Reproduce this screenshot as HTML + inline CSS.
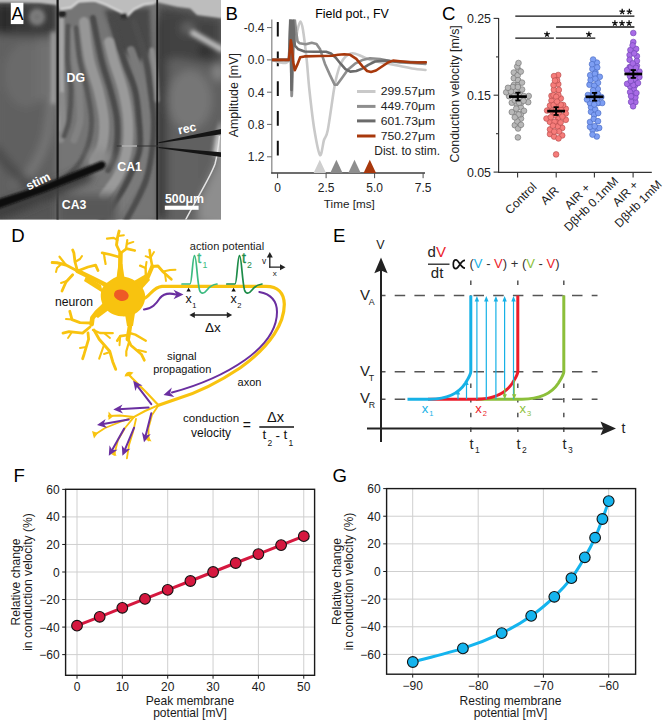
<!DOCTYPE html>
<html><head><meta charset="utf-8"><title>Figure</title>
<style>html,body{margin:0;padding:0;background:#fff;overflow:hidden;}svg{display:block;font-family:"Liberation Sans",sans-serif;}</style>
</head><body>
<svg width="664" height="720" viewBox="0 0 664 720">
<rect x="0" y="0" width="664" height="720" fill="#fff"/>
<clipPath id="ca"><rect x="0" y="0" width="221" height="219.5"/></clipPath>
<filter id="bl2" filterUnits="userSpaceOnUse" x="-20" y="-20" width="260" height="260"><feGaussianBlur stdDeviation="2.2"/></filter>
<filter id="bl1" filterUnits="userSpaceOnUse" x="-20" y="-20" width="260" height="260"><feGaussianBlur stdDeviation="1"/></filter>
<filter id="bl4" filterUnits="userSpaceOnUse" x="-20" y="-20" width="260" height="260"><feGaussianBlur stdDeviation="4"/></filter>
<g clip-path="url(#ca)">
<rect x="0" y="0" width="221" height="219.5" fill="#6a6a6a"/>
<g filter="url(#bl4)">
<rect x="-5" y="30" width="62" height="195" fill="#616161"/>
<ellipse cx="26" cy="75" rx="22" ry="32" fill="#6a6a6a"/>
<path d="M-5 3 L57 3 L57 33 C40 37 20 36 -5 34 Z" fill="#383838"/>
<rect x="-5" y="3" width="16" height="30" fill="#2a2a2a"/>
<ellipse cx="37" cy="17" rx="6" ry="6" fill="#858585"/>
<rect x="36" y="40" width="18" height="60" fill="#707070"/>
<path d="M52.0 100.0 C51.0 106.7 49.7 128.0 46.0 140.0 C42.3 152.0 35.2 165.0 30.0 172.0 C24.8 179.0 17.5 180.3 15.0 182.0" fill="none" stroke="#7a7a7a" stroke-width="7" stroke-linecap="round" stroke-opacity="1"/>
<path d="M-5.0 150.0 C-0.8 154.7 12.5 171.3 20.0 178.0 C27.5 184.7 33.8 187.0 40.0 190.0 C46.2 193.0 54.2 195.0 57.0 196.0" fill="none" stroke="#4a4a4a" stroke-width="10" stroke-linecap="round" stroke-opacity="1"/>
<rect x="-5" y="200" width="62" height="25" fill="#555"/>
<rect x="157" y="10" width="70" height="220" fill="#606060"/>
<path d="M157 6 L190 11 L200 17 L221 19 L221 66 L200 62 L180 58 L157 60 Z" fill="#434343"/>
<rect x="154" y="20" width="13" height="200" fill="#3e3e3e"/>
<ellipse cx="190" cy="100" rx="22" ry="30" fill="#767676"/>
<ellipse cx="188" cy="28" rx="7" ry="6" fill="#666"/>
<ellipse cx="205" cy="51" rx="6" ry="5.5" fill="#262626"/>
<ellipse cx="218" cy="72" rx="5" ry="9" fill="#8a8a8a"/>
<path d="M220 138 L216 165 L190 220 L230 230 L230 138 Z" fill="#8e8e8e"/>
<rect x="168" y="150" width="30" height="70" fill="#626262"/>
</g>
<g filter="url(#bl2)">
<path d="M193.0 33.0 C197.7 35.7 216.3 46.3 221.0 49.0" fill="none" stroke="#c4c4c4" stroke-width="6" stroke-linecap="round" stroke-opacity="1"/>
<rect x="51" y="32" width="5.5" height="72" fill="#a2a2a2"/>
<path d="M221 120 L216 136 L213 155 L221 156 Z" fill="#d0d0d0"/>
<ellipse cx="37" cy="17" rx="5" ry="5.5" fill="none" stroke="#8e8e8e" stroke-width="3"/>
</g>
<g filter="url(#bl2)">
<rect x="57" y="0" width="100" height="220" fill="#747474"/>
<path d="M104 10 L150 8 L152 50 L140 62 L118 50 Z" fill="#4a4a4a"/>
</g>
<g filter="url(#bl1)">
<path d="M61.5 14.0 C61.5 18.3 61.5 30.7 61.5 40.0 C61.5 49.3 61.4 60.0 61.5 70.0 C61.6 80.0 62.1 90.0 62.0 100.0 C61.9 110.0 61.2 125.0 61.0 130.0" fill="none" stroke="#a4a4a4" stroke-width="5" stroke-linecap="round" stroke-opacity="1"/>
<path d="M62.0 95.0 C62.2 100.0 63.2 117.5 63.0 125.0 C62.8 132.5 61.3 137.5 61.0 140.0" fill="none" stroke="#8a8a8a" stroke-width="6" stroke-linecap="round" stroke-opacity="1"/>
<path d="M68.0 26.0 C67.9 31.7 67.0 49.3 67.5 60.0 C68.0 70.7 70.8 80.0 71.0 90.0 C71.2 100.0 70.2 112.3 69.0 120.0 C67.8 127.7 64.8 133.3 64.0 136.0" fill="none" stroke="#555" stroke-width="5" stroke-linecap="round" stroke-opacity="1"/>
<path d="M74.0 30.0 C74.2 35.0 74.2 50.0 75.0 60.0 C75.8 70.0 78.2 80.0 79.0 90.0 C79.8 100.0 80.8 111.7 80.0 120.0 C79.2 128.3 75.0 136.7 74.0 140.0" fill="none" stroke="#828282" stroke-width="7" stroke-linecap="round" stroke-opacity="1"/>
<path d="M76.0 28.0 C76.6 33.3 77.8 49.7 79.6 60.0 C81.4 70.3 85.0 80.0 87.0 90.0 C89.0 100.0 91.4 110.8 91.6 120.0 C91.8 129.2 90.3 137.5 88.0 145.0 C85.7 152.5 82.3 159.2 78.0 165.0 C73.7 170.8 64.7 177.5 62.0 180.0" fill="none" stroke="#575757" stroke-width="5" stroke-linecap="round" stroke-opacity="1"/>
<path d="M84.0 22.0 C84.9 28.3 87.0 48.7 89.4 60.0 C91.8 71.3 96.0 80.0 98.4 90.0 C100.8 100.0 103.4 110.7 104.0 120.0 C104.6 129.3 103.7 139.0 102.0 146.0 C100.3 153.0 95.3 159.3 94.0 162.0" fill="none" stroke="#979797" stroke-width="10" stroke-linecap="round" stroke-opacity="1"/>
<path d="M93.0 18.0 C94.4 25.0 98.6 48.0 101.5 60.0 C104.4 72.0 107.9 80.0 110.5 90.0 C113.1 100.0 116.1 110.0 117.0 120.0 C117.9 130.0 117.5 141.7 116.0 150.0 C114.5 158.3 109.3 166.7 108.0 170.0" fill="none" stroke="#4c4c4c" stroke-width="6" stroke-linecap="round" stroke-opacity="1"/>
<path d="M109.0 42.0 C109.8 45.0 111.2 52.0 113.5 60.0 C115.8 68.0 120.6 80.0 123.0 90.0 C125.4 100.0 127.3 110.0 128.0 120.0 C128.7 130.0 128.7 140.7 127.0 150.0 C125.3 159.3 121.8 168.3 118.0 176.0 C114.2 183.7 106.3 192.7 104.0 196.0" fill="none" stroke="#9a9a9a" stroke-width="10" stroke-linecap="round" stroke-opacity="1"/>
<path d="M112.0 20.0 C114.0 26.7 120.2 48.3 124.0 60.0 C127.8 71.7 132.5 80.0 135.0 90.0 C137.5 100.0 138.2 110.0 139.0 120.0 C139.8 130.0 141.4 140.0 139.6 150.0 C137.8 160.0 132.8 170.0 128.0 180.0 C123.2 190.0 116.0 202.7 111.0 210.0 C106.0 217.3 100.2 221.7 98.0 224.0" fill="none" stroke="#484848" stroke-width="6" stroke-linecap="round" stroke-opacity="1"/>
<path d="M131.0 50.0 C131.6 51.7 132.5 53.3 134.5 60.0 C136.5 66.7 141.0 80.0 143.0 90.0 C145.0 100.0 145.9 110.0 146.6 120.0 C147.3 130.0 148.4 140.3 147.0 150.0 C145.6 159.7 142.2 169.0 138.0 178.0 C133.8 187.0 127.0 196.3 122.0 204.0 C117.0 211.7 110.3 220.7 108.0 224.0" fill="none" stroke="#7a7a7a" stroke-width="8" stroke-linecap="round" stroke-opacity="1"/>
<path d="M134.0 22.0 C136.0 28.3 143.1 48.7 145.8 60.0 C148.5 71.3 149.1 80.0 150.4 90.0 C151.7 100.0 153.4 110.0 153.7 120.0 C154.0 130.0 153.3 140.0 152.0 150.0 C150.7 160.0 149.0 170.7 146.0 180.0 C143.0 189.3 137.7 198.7 134.0 206.0 C130.3 213.3 125.7 221.0 124.0 224.0" fill="none" stroke="#4e4e4e" stroke-width="6" stroke-linecap="round" stroke-opacity="1"/>
<path d="M152.0 50.0 C152.6 54.2 154.7 66.7 155.5 75.0 C156.3 83.3 156.8 95.8 157.0 100.0" fill="none" stroke="#8c8c8c" stroke-width="5" stroke-linecap="round" stroke-opacity="1"/>
</g>
<g filter="url(#bl1)">
<path d="M-2 -2 L223 -2 L223 18.4 L210.3 16.7 L197 15 L190.3 8.4 L176.9 6.7 L158.5 2.5 L154.7 3.2 L143.6 4.7 L134 9.5 L127.8 15.8 L118.3 11 L105.6 4.7 L94.5 0.8 L78.7 1.6 L70.8 7.9 L59.7 9.5 L57 5 L40 3 L20 2.5 L-2 2.5 Z" fill="#bdbdbd"/>
<path d="M59.7 9.5 L70.8 7.9 L78.7 1.6 L94.5 0.8 L105.6 4.7 L118.3 11 L127.8 15.8 L134 9.5 L143.6 4.7 L154.7 3.2" fill="none" stroke="#e6e6e6" stroke-width="1.6"/>
<ellipse cx="62" cy="14" rx="4" ry="3.5" fill="#202020"/>
<ellipse cx="124" cy="16" rx="3.5" ry="3" fill="#303030"/>
</g>
<line x1="57.6" y1="0" x2="57.6" y2="220" stroke="#141414" stroke-width="2.2"/>
<line x1="157.2" y1="0" x2="157.2" y2="220" stroke="#141414" stroke-width="1.8"/>
<path d="M219.5 136 C218.5 145 217.5 155 215 164 C210 178 198 196 185 221" fill="none" stroke="#e4e4e4" stroke-width="1.5"/>
<g filter="url(#bl4)">
<ellipse cx="100" cy="158" rx="12" ry="9" fill="#8c8c8c"/>
<path d="M-5.0 214.0 C0.8 211.7 15.0 206.3 30.0 200.0 C45.0 193.7 75.8 180.0 85.0 176.0" fill="none" stroke="#3c3c3c" stroke-width="14" stroke-linecap="round" stroke-opacity="1"/>
<rect x="57" y="195" width="60" height="30" fill="#585858"/>
</g>
<g filter="url(#bl1)">
<path d="M-5 200 L40 186 L100 161.5 C106 159.5 108 167 102 169.5 L45 192 L-5 210 Z" fill="#111"/>
</g>
<path d="M222 128.8 L222 134 L158.5 143.3 L158.5 142.2 Z" fill="#151515"/>
<path d="M222 152.3 L222 157.2 L158.5 148.1 L158.5 147.1 Z" fill="#151515"/>
<line x1="116.7" y1="146" x2="158.5" y2="146" stroke="#333" stroke-width="1"/>
<line x1="121.7" y1="146" x2="137" y2="146" stroke="#f0f0f0" stroke-width="1.1"/>
<rect x="10.8" y="2.7" width="12.6" height="21.4" fill="#fff"/>
<text x="11.5" y="19.9" font-size="18" fill="#000" font-family="Liberation Sans, sans-serif">A</text>
<text x="66.6" y="81.9" font-size="12.3" fill="#fff" font-weight="bold" font-family="Liberation Sans, sans-serif">DG</text>
<text x="117.3" y="171" font-size="12.3" fill="#fff" font-weight="bold" font-family="Liberation Sans, sans-serif">CA1</text>
<text x="61.8" y="208.7" font-size="12.3" fill="#fff" font-weight="bold" font-family="Liberation Sans, sans-serif">CA3</text>
<text transform="translate(28.5 190.5) rotate(-26)" font-size="12.3" fill="#fff" font-weight="bold" font-family="Liberation Sans, sans-serif">stim</text>
<text transform="translate(179 134.5) rotate(-13)" font-size="12.3" fill="#fff" font-weight="bold" font-family="Liberation Sans, sans-serif">rec</text>
<text x="165" y="202.8" font-size="12.3" fill="#fff" font-weight="bold" font-family="Liberation Sans, sans-serif">500μm</text>
<rect x="164.8" y="205.7" width="33.8" height="4.1" fill="#fff"/>
</g>
<text x="225.6" y="19.7" font-size="18.6" font-family="Liberation Sans, sans-serif">B</text>
<text x="315.2" y="17.6" font-size="12.4" font-family="Liberation Sans, sans-serif">Field pot., FV</text>
<line x1="271.8" y1="19.5" x2="271.8" y2="173.6" stroke="#8c8c8c" stroke-width="1.3"/>
<line x1="271.2" y1="173" x2="425" y2="173" stroke="#3c3c3c" stroke-width="1.3"/>
<line x1="267" y1="27.6" x2="271.8" y2="27.6" stroke="#666" stroke-width="1"/>
<text x="264.5" y="32.0" font-size="12" text-anchor="end" fill="#222" font-family="Liberation Sans, sans-serif">-0.4</text>
<line x1="267" y1="59.9" x2="271.8" y2="59.9" stroke="#666" stroke-width="1"/>
<text x="264.5" y="64.3" font-size="12" text-anchor="end" fill="#222" font-family="Liberation Sans, sans-serif">0.0</text>
<line x1="267" y1="92.2" x2="271.8" y2="92.2" stroke="#666" stroke-width="1"/>
<text x="264.5" y="96.6" font-size="12" text-anchor="end" fill="#222" font-family="Liberation Sans, sans-serif">0.4</text>
<line x1="267" y1="124.4" x2="271.8" y2="124.4" stroke="#666" stroke-width="1"/>
<text x="264.5" y="128.8" font-size="12" text-anchor="end" fill="#222" font-family="Liberation Sans, sans-serif">0.8</text>
<line x1="267" y1="156.8" x2="271.8" y2="156.8" stroke="#666" stroke-width="1"/>
<text x="264.5" y="161.2" font-size="12" text-anchor="end" fill="#222" font-family="Liberation Sans, sans-serif">1.2</text>
<line x1="277.6" y1="173" x2="277.6" y2="178.2" stroke="#505050" stroke-width="1"/>
<text x="277.6" y="192.4" font-size="12" text-anchor="middle" fill="#222" font-family="Liberation Sans, sans-serif">0</text>
<line x1="326.1" y1="173" x2="326.1" y2="178.2" stroke="#505050" stroke-width="1"/>
<text x="326.1" y="192.4" font-size="12" text-anchor="middle" fill="#222" font-family="Liberation Sans, sans-serif">2.5</text>
<line x1="374.6" y1="173" x2="374.6" y2="178.2" stroke="#505050" stroke-width="1"/>
<text x="374.6" y="192.4" font-size="12" text-anchor="middle" fill="#222" font-family="Liberation Sans, sans-serif">5.0</text>
<line x1="423.1" y1="173" x2="423.1" y2="178.2" stroke="#505050" stroke-width="1"/>
<text x="423.1" y="192.4" font-size="12" text-anchor="middle" fill="#222" font-family="Liberation Sans, sans-serif">7.5</text>
<text x="349.3" y="207.5" font-size="11.7" text-anchor="middle" fill="#222" font-family="Liberation Sans, sans-serif">Time [ms]</text>
<text transform="translate(238.3 95.2) rotate(-90)" font-size="12.45" text-anchor="middle" fill="#222" font-family="Liberation Sans, sans-serif">Amplitude [mV]</text>
<line x1="277.8" y1="21.9" x2="277.8" y2="156" stroke="#111" stroke-width="2" stroke-dasharray="14.7 15"/>
<clipPath id="cb"><rect x="272" y="19.5" width="160" height="153"/></clipPath>
<g clip-path="url(#cb)" fill="none" stroke-width="2.6" stroke-linejoin="round" stroke-linecap="round">
<path d="M272 59.9 C274.8 59.9 285.9 66.9 289 59.9 C292.1 52.9 290 12 290.5 18 C291 24 291.5 96 292 96 C292.5 96 292.9 27.3 293.5 18 C294.1 8.7 294.8 38 295.5 40 C296.2 42 296.7 33.1 297.5 30 C298.3 26.9 299.5 21.5 300.4 21.5 C301.3 21.5 302 23.9 303 30 C304 36.1 305.4 48 306.5 58 C307.6 68 308.1 78 309.4 90 C310.7 102 312.6 119.2 314.4 130 C316.2 140.8 318.4 153.3 320 155 C321.6 156.7 322.7 144.2 324 140 C325.3 135.8 326.2 138.3 327.8 130 C329.4 121.7 332.4 99.2 333.9 90 C335.4 80.8 335.9 79.3 337 75 C338.1 70.7 339.2 67 340.6 64 C342 61 343.4 58.5 345.4 56.7 C347.4 54.9 349.9 53.2 352.7 53.2 C355.5 53.2 359.1 55.3 362.3 56.5 C365.5 57.7 368.2 59.4 372 60.5 C375.8 61.6 380.3 62.1 385 63 C389.7 63.9 395.5 65.1 400 66 C404.5 66.9 407.8 67.8 412 68.5 C416.2 69.2 423.2 69.8 425.5 70" stroke="#c9c9c9"/>
<path d="M272 59.9 L289 59.9 L290.3 18 L291.6 96 L294.6 18 L296.2 32 L297.6 41.5 L299.6 43.3 L305.7 44.3 L311.7 42.8 L316.5 44 L320.1 49.3 L324.9 63.7 L329.8 74.6 L334.6 84.6 L337 84.8 L341.8 78.2 L347.8 69.8 L355 63.7 L362.3 60.1 L370 58.3 L380 59 L390 61 L400 62.5 L412 63 L425.5 64" stroke="#8e8e8e"/>
<path d="M272 59.9 L289 59.9 L290.5 18 L291.5 90 L293 18 L294.8 45.7 L298.4 49.3 L304.5 51.5 L314.1 51.7 L326.1 51.8 L331 53.5 L335.8 57.7 L340.6 63.7 L345.4 69.2 L350.2 71.6 L356.3 71 L362.3 68.6 L368.3 64.9 L375 61.5 L385 60.5 L395 61.5 L410 62 L425.5 62.5" stroke="#6b6b6b"/>
<path d="M272 59.9 L288.8 59.9 L290 50 L290.8 40.3 L291.8 46 L293.2 62 L294.8 70.2 L297.2 64.9 L300.2 57.3 L304.5 56.4 L320.1 56 L332.2 55.8 L338.2 54.8 L344.2 54.2 L350.2 54.8 L356.3 58.9 L362.3 66.1 L367.1 71 L371 72 L376 70.5 L382 66.5 L388 62.5 L393 60.6 L400 61.2 L410 62.3 L418 62.5 L425.8 62.3" stroke="#a8380c"/>
</g>
<path d="M313.6 173 L319.8 159.8 L326.0 173 Z" fill="#cfcfcf"/>
<path d="M330.2 173 L336.4 159.8 L342.59999999999997 173 Z" fill="#8a8a8a"/>
<path d="M348.3 173 L354.5 159.8 L360.7 173 Z" fill="#8e8e8e"/>
<path d="M363.6 173 L369.8 159.8 L376.0 173 Z" fill="#a8380c"/>
<line x1="357" y1="91.5" x2="375.5" y2="91.5" stroke="#c9c9c9" stroke-width="3"/>
<text x="380.8" y="95.4" font-size="11.7" textLength="54.2" lengthAdjust="spacingAndGlyphs" fill="#222" font-family="Liberation Sans, sans-serif">299.57μm</text>
<line x1="357" y1="106.4" x2="375.5" y2="106.4" stroke="#8e8e8e" stroke-width="3"/>
<text x="380.8" y="110.3" font-size="11.7" textLength="54.2" lengthAdjust="spacingAndGlyphs" fill="#222" font-family="Liberation Sans, sans-serif">449.70μm</text>
<line x1="357" y1="120.9" x2="375.5" y2="120.9" stroke="#6b6b6b" stroke-width="3"/>
<text x="380.8" y="124.8" font-size="11.7" textLength="54.2" lengthAdjust="spacingAndGlyphs" fill="#222" font-family="Liberation Sans, sans-serif">601.73μm</text>
<line x1="357" y1="136" x2="375.5" y2="136" stroke="#a8380c" stroke-width="3"/>
<text x="380.8" y="139.9" font-size="11.7" textLength="54.2" lengthAdjust="spacingAndGlyphs" fill="#222" font-family="Liberation Sans, sans-serif">750.27μm</text>
<text x="374.3" y="155.2" font-size="11.95" fill="#222" font-family="Liberation Sans, sans-serif">Dist. to stim.</text>
<text x="442.1" y="19.8" font-size="18.6" font-family="Liberation Sans, sans-serif">C</text>
<line x1="498.6" y1="18" x2="498.6" y2="173" stroke="#333" stroke-width="1.2"/>
<line x1="498" y1="172.4" x2="651.8" y2="172.4" stroke="#333" stroke-width="1.2"/>
<line x1="493.6" y1="18.4" x2="498.6" y2="18.4" stroke="#333" stroke-width="1.1"/>
<text x="491" y="22.8" font-size="12.4" text-anchor="end" fill="#222" font-family="Liberation Sans, sans-serif">0.25</text>
<line x1="493.6" y1="95.2" x2="498.6" y2="95.2" stroke="#333" stroke-width="1.1"/>
<text x="491" y="99.6" font-size="12.4" text-anchor="end" fill="#222" font-family="Liberation Sans, sans-serif">0.15</text>
<line x1="493.6" y1="172.1" x2="498.6" y2="172.1" stroke="#333" stroke-width="1.1"/>
<text x="491" y="176.5" font-size="12.4" text-anchor="end" fill="#222" font-family="Liberation Sans, sans-serif">0.05</text>
<line x1="496" y1="56.9" x2="498.6" y2="56.9" stroke="#333" stroke-width="1.1"/>
<line x1="496" y1="133.7" x2="498.6" y2="133.7" stroke="#333" stroke-width="1.1"/>
<text transform="translate(458.9 93.8) rotate(-90)" font-size="12.35" text-anchor="middle" fill="#222" font-family="Liberation Sans, sans-serif">Conduction velocity [m/s]</text>
<line x1="517.6" y1="172.4" x2="517.6" y2="177.4" stroke="#333" stroke-width="1.1"/>
<line x1="556.2" y1="172.4" x2="556.2" y2="177.4" stroke="#333" stroke-width="1.1"/>
<line x1="594.4" y1="172.4" x2="594.4" y2="177.4" stroke="#333" stroke-width="1.1"/>
<line x1="633.1" y1="172.4" x2="633.1" y2="177.4" stroke="#333" stroke-width="1.1"/>
<text transform="translate(510.1 214.9) rotate(-45)" font-size="12" fill="#222" font-family="Liberation Sans, sans-serif">Control</text>
<text transform="translate(545.6 205.6) rotate(-45)" font-size="12" fill="#222" font-family="Liberation Sans, sans-serif">AIR</text>
<text transform="translate(569.4 209.9) rotate(-45)" font-size="12" fill="#222" font-family="Liberation Sans, sans-serif">AIR +</text>
<text transform="translate(568.9 232.1) rotate(-45)" font-size="12" fill="#222" font-family="Liberation Sans, sans-serif">DβHb 0.1mM</text>
<text transform="translate(617.5 207.2) rotate(-45)" font-size="12" fill="#222" font-family="Liberation Sans, sans-serif">AIR +</text>
<text transform="translate(619.5 228.2) rotate(-45)" font-size="12" fill="#222" font-family="Liberation Sans, sans-serif">DβHb 1mM</text>
<line x1="515.3" y1="16.1" x2="634.4" y2="16.1" stroke="#111" stroke-width="1.4"/>
<line x1="556.1" y1="27" x2="634.4" y2="27" stroke="#111" stroke-width="1.4"/>
<line x1="515.3" y1="38.1" x2="553.9" y2="38.1" stroke="#111" stroke-width="1.4"/>
<line x1="555.9" y1="38.1" x2="595.3" y2="38.1" stroke="#111" stroke-width="1.4"/>
<path d="M622.20 11.70 L622.20 8.80 M622.20 11.70 L624.96 10.80 M622.20 11.70 L623.90 14.05 M622.20 11.70 L620.50 14.05 M622.20 11.70 L619.44 10.80 " stroke="#111" stroke-width="1.3" stroke-linecap="butt" fill="none"/>
<path d="M629.40 11.70 L629.40 8.80 M629.40 11.70 L632.16 10.80 M629.40 11.70 L631.10 14.05 M629.40 11.70 L627.70 14.05 M629.40 11.70 L626.64 10.80 " stroke="#111" stroke-width="1.3" stroke-linecap="butt" fill="none"/>
<path d="M614.90 23.20 L614.90 20.30 M614.90 23.20 L617.66 22.30 M614.90 23.20 L616.60 25.55 M614.90 23.20 L613.20 25.55 M614.90 23.20 L612.14 22.30 " stroke="#111" stroke-width="1.3" stroke-linecap="butt" fill="none"/>
<path d="M622.00 23.20 L622.00 20.30 M622.00 23.20 L624.76 22.30 M622.00 23.20 L623.70 25.55 M622.00 23.20 L620.30 25.55 M622.00 23.20 L619.24 22.30 " stroke="#111" stroke-width="1.3" stroke-linecap="butt" fill="none"/>
<path d="M629.10 23.20 L629.10 20.30 M629.10 23.20 L631.86 22.30 M629.10 23.20 L630.80 25.55 M629.10 23.20 L627.40 25.55 M629.10 23.20 L626.34 22.30 " stroke="#111" stroke-width="1.3" stroke-linecap="butt" fill="none"/>
<path d="M547.00 34.30 L547.00 31.40 M547.00 34.30 L549.76 33.40 M547.00 34.30 L548.70 36.65 M547.00 34.30 L545.30 36.65 M547.00 34.30 L544.24 33.40 " stroke="#111" stroke-width="1.3" stroke-linecap="butt" fill="none"/>
<path d="M588.90 34.30 L588.90 31.40 M588.90 34.30 L591.66 33.40 M588.90 34.30 L590.60 36.65 M588.90 34.30 L587.20 36.65 M588.90 34.30 L586.14 33.40 " stroke="#111" stroke-width="1.3" stroke-linecap="butt" fill="none"/>
<circle cx="518.5" cy="70.0" r="2.85" fill="#b8b8b8" stroke="#6e6e6e" stroke-width="0.6"/>
<circle cx="528.7" cy="96.0" r="2.85" fill="#b8b8b8" stroke="#6e6e6e" stroke-width="0.6"/>
<circle cx="516.3" cy="113.4" r="2.85" fill="#b8b8b8" stroke="#6e6e6e" stroke-width="0.6"/>
<circle cx="521.0" cy="118.6" r="2.85" fill="#b8b8b8" stroke="#6e6e6e" stroke-width="0.6"/>
<circle cx="520.9" cy="114.2" r="2.85" fill="#b8b8b8" stroke="#6e6e6e" stroke-width="0.6"/>
<circle cx="514.0" cy="84.8" r="2.85" fill="#b8b8b8" stroke="#6e6e6e" stroke-width="0.6"/>
<circle cx="513.8" cy="78.2" r="2.85" fill="#b8b8b8" stroke="#6e6e6e" stroke-width="0.6"/>
<circle cx="516.4" cy="103.8" r="2.85" fill="#b8b8b8" stroke="#6e6e6e" stroke-width="0.6"/>
<circle cx="513.9" cy="95.6" r="2.85" fill="#b8b8b8" stroke="#6e6e6e" stroke-width="0.6"/>
<circle cx="519.7" cy="93.5" r="2.85" fill="#b8b8b8" stroke="#6e6e6e" stroke-width="0.6"/>
<circle cx="513.8" cy="72.5" r="2.85" fill="#b8b8b8" stroke="#6e6e6e" stroke-width="0.6"/>
<circle cx="514.8" cy="125.2" r="2.85" fill="#b8b8b8" stroke="#6e6e6e" stroke-width="0.6"/>
<circle cx="517.3" cy="121.4" r="2.85" fill="#b8b8b8" stroke="#6e6e6e" stroke-width="0.6"/>
<circle cx="517.2" cy="66.5" r="2.85" fill="#b8b8b8" stroke="#6e6e6e" stroke-width="0.6"/>
<circle cx="518.6" cy="114.5" r="2.85" fill="#b8b8b8" stroke="#6e6e6e" stroke-width="0.6"/>
<circle cx="515.6" cy="91.1" r="2.85" fill="#b8b8b8" stroke="#6e6e6e" stroke-width="0.6"/>
<circle cx="517.7" cy="75.3" r="2.85" fill="#b8b8b8" stroke="#6e6e6e" stroke-width="0.6"/>
<circle cx="518.1" cy="80.1" r="2.85" fill="#b8b8b8" stroke="#6e6e6e" stroke-width="0.6"/>
<circle cx="519.5" cy="98.2" r="2.85" fill="#b8b8b8" stroke="#6e6e6e" stroke-width="0.6"/>
<circle cx="522.1" cy="89.5" r="2.85" fill="#b8b8b8" stroke="#6e6e6e" stroke-width="0.6"/>
<circle cx="518.0" cy="85.1" r="2.85" fill="#b8b8b8" stroke="#6e6e6e" stroke-width="0.6"/>
<circle cx="523.8" cy="96.0" r="2.85" fill="#b8b8b8" stroke="#6e6e6e" stroke-width="0.6"/>
<circle cx="509.1" cy="96.2" r="2.85" fill="#b8b8b8" stroke="#6e6e6e" stroke-width="0.6"/>
<circle cx="518.1" cy="128.5" r="2.85" fill="#b8b8b8" stroke="#6e6e6e" stroke-width="0.6"/>
<circle cx="506.2" cy="92.3" r="2.85" fill="#b8b8b8" stroke="#6e6e6e" stroke-width="0.6"/>
<circle cx="517.9" cy="137.4" r="2.85" fill="#b8b8b8" stroke="#6e6e6e" stroke-width="0.6"/>
<circle cx="511.8" cy="102.7" r="2.85" fill="#b8b8b8" stroke="#6e6e6e" stroke-width="0.6"/>
<circle cx="514.8" cy="117.3" r="2.85" fill="#b8b8b8" stroke="#6e6e6e" stroke-width="0.6"/>
<circle cx="512.8" cy="87.0" r="2.85" fill="#b8b8b8" stroke="#6e6e6e" stroke-width="0.6"/>
<circle cx="520.8" cy="107.4" r="2.85" fill="#b8b8b8" stroke="#6e6e6e" stroke-width="0.6"/>
<circle cx="510.9" cy="91.6" r="2.85" fill="#b8b8b8" stroke="#6e6e6e" stroke-width="0.6"/>
<circle cx="528.2" cy="102.2" r="2.85" fill="#b8b8b8" stroke="#6e6e6e" stroke-width="0.6"/>
<circle cx="521.0" cy="124.8" r="2.85" fill="#b8b8b8" stroke="#6e6e6e" stroke-width="0.6"/>
<circle cx="517.9" cy="87.0" r="2.85" fill="#b8b8b8" stroke="#6e6e6e" stroke-width="0.6"/>
<circle cx="514.8" cy="100.4" r="2.85" fill="#b8b8b8" stroke="#6e6e6e" stroke-width="0.6"/>
<circle cx="521.1" cy="102.7" r="2.85" fill="#b8b8b8" stroke="#6e6e6e" stroke-width="0.6"/>
<circle cx="520.8" cy="71.6" r="2.85" fill="#b8b8b8" stroke="#6e6e6e" stroke-width="0.6"/>
<circle cx="519.1" cy="102.7" r="2.85" fill="#b8b8b8" stroke="#6e6e6e" stroke-width="0.6"/>
<circle cx="508.0" cy="87.8" r="2.85" fill="#b8b8b8" stroke="#6e6e6e" stroke-width="0.6"/>
<circle cx="511.8" cy="112.1" r="2.85" fill="#b8b8b8" stroke="#6e6e6e" stroke-width="0.6"/>
<circle cx="524.0" cy="110.8" r="2.85" fill="#b8b8b8" stroke="#6e6e6e" stroke-width="0.6"/>
<circle cx="522.0" cy="82.6" r="2.85" fill="#b8b8b8" stroke="#6e6e6e" stroke-width="0.6"/>
<circle cx="516.2" cy="108.6" r="2.85" fill="#b8b8b8" stroke="#6e6e6e" stroke-width="0.6"/>
<circle cx="523.6" cy="100.8" r="2.85" fill="#b8b8b8" stroke="#6e6e6e" stroke-width="0.6"/>
<circle cx="518.5" cy="63.0" r="2.85" fill="#b8b8b8" stroke="#6e6e6e" stroke-width="0.6"/>
<line x1="509.0" y1="96.6" x2="526.8" y2="96.6" stroke="#000" stroke-width="2.7"/>
<line x1="517.9" y1="92.7" x2="517.9" y2="100.5" stroke="#000" stroke-width="2"/>
<line x1="515.3" y1="92.7" x2="520.5" y2="92.7" stroke="#000" stroke-width="1.8"/>
<line x1="515.3" y1="100.5" x2="520.5" y2="100.5" stroke="#000" stroke-width="1.8"/>
<circle cx="556.1" cy="154.4" r="2.85" fill="#f67c7a" stroke="#b04848" stroke-width="0.6"/>
<circle cx="558.3" cy="119.0" r="2.85" fill="#f67c7a" stroke="#b04848" stroke-width="0.6"/>
<circle cx="565.8" cy="108.8" r="2.85" fill="#f67c7a" stroke="#b04848" stroke-width="0.6"/>
<circle cx="553.9" cy="89.8" r="2.85" fill="#f67c7a" stroke="#b04848" stroke-width="0.6"/>
<circle cx="550.0" cy="134.1" r="2.85" fill="#f67c7a" stroke="#b04848" stroke-width="0.6"/>
<circle cx="549.8" cy="121.8" r="2.85" fill="#f67c7a" stroke="#b04848" stroke-width="0.6"/>
<circle cx="562.2" cy="127.9" r="2.85" fill="#f67c7a" stroke="#b04848" stroke-width="0.6"/>
<circle cx="561.1" cy="109.2" r="2.85" fill="#f67c7a" stroke="#b04848" stroke-width="0.6"/>
<circle cx="551.5" cy="100.6" r="2.85" fill="#f67c7a" stroke="#b04848" stroke-width="0.6"/>
<circle cx="550.0" cy="105.6" r="2.85" fill="#f67c7a" stroke="#b04848" stroke-width="0.6"/>
<circle cx="551.8" cy="111.0" r="2.85" fill="#f67c7a" stroke="#b04848" stroke-width="0.6"/>
<circle cx="550.0" cy="129.4" r="2.85" fill="#f67c7a" stroke="#b04848" stroke-width="0.6"/>
<circle cx="551.5" cy="95.8" r="2.85" fill="#f67c7a" stroke="#b04848" stroke-width="0.6"/>
<circle cx="553.5" cy="95.2" r="2.85" fill="#f67c7a" stroke="#b04848" stroke-width="0.6"/>
<circle cx="565.8" cy="113.5" r="2.85" fill="#f67c7a" stroke="#b04848" stroke-width="0.6"/>
<circle cx="554.7" cy="114.9" r="2.85" fill="#f67c7a" stroke="#b04848" stroke-width="0.6"/>
<circle cx="563.2" cy="105.0" r="2.85" fill="#f67c7a" stroke="#b04848" stroke-width="0.6"/>
<circle cx="565.8" cy="119.8" r="2.85" fill="#f67c7a" stroke="#b04848" stroke-width="0.6"/>
<circle cx="555.8" cy="121.8" r="2.85" fill="#f67c7a" stroke="#b04848" stroke-width="0.6"/>
<circle cx="546.5" cy="118.5" r="2.85" fill="#f67c7a" stroke="#b04848" stroke-width="0.6"/>
<circle cx="558.5" cy="105.0" r="2.85" fill="#f67c7a" stroke="#b04848" stroke-width="0.6"/>
<circle cx="560.8" cy="98.4" r="2.85" fill="#f67c7a" stroke="#b04848" stroke-width="0.6"/>
<circle cx="558.2" cy="75.0" r="2.85" fill="#f67c7a" stroke="#b04848" stroke-width="0.6"/>
<circle cx="547.1" cy="110.5" r="2.85" fill="#f67c7a" stroke="#b04848" stroke-width="0.6"/>
<circle cx="560.8" cy="104.7" r="2.85" fill="#f67c7a" stroke="#b04848" stroke-width="0.6"/>
<circle cx="562.2" cy="135.4" r="2.85" fill="#f67c7a" stroke="#b04848" stroke-width="0.6"/>
<circle cx="550.8" cy="117.2" r="2.85" fill="#f67c7a" stroke="#b04848" stroke-width="0.6"/>
<circle cx="557.7" cy="126.5" r="2.85" fill="#f67c7a" stroke="#b04848" stroke-width="0.6"/>
<circle cx="559.1" cy="113.5" r="2.85" fill="#f67c7a" stroke="#b04848" stroke-width="0.6"/>
<circle cx="560.6" cy="122.5" r="2.85" fill="#f67c7a" stroke="#b04848" stroke-width="0.6"/>
<circle cx="558.3" cy="94.7" r="2.85" fill="#f67c7a" stroke="#b04848" stroke-width="0.6"/>
<circle cx="559.1" cy="131.5" r="2.85" fill="#f67c7a" stroke="#b04848" stroke-width="0.6"/>
<circle cx="554.6" cy="121.8" r="2.85" fill="#f67c7a" stroke="#b04848" stroke-width="0.6"/>
<circle cx="554.1" cy="136.6" r="2.85" fill="#f67c7a" stroke="#b04848" stroke-width="0.6"/>
<circle cx="552.9" cy="125.7" r="2.85" fill="#f67c7a" stroke="#b04848" stroke-width="0.6"/>
<circle cx="558.3" cy="84.1" r="2.85" fill="#f67c7a" stroke="#b04848" stroke-width="0.6"/>
<circle cx="558.8" cy="89.9" r="2.85" fill="#f67c7a" stroke="#b04848" stroke-width="0.6"/>
<circle cx="553.5" cy="85.1" r="2.85" fill="#f67c7a" stroke="#b04848" stroke-width="0.6"/>
<circle cx="554.0" cy="76.1" r="2.85" fill="#f67c7a" stroke="#b04848" stroke-width="0.6"/>
<circle cx="553.6" cy="105.0" r="2.85" fill="#f67c7a" stroke="#b04848" stroke-width="0.6"/>
<circle cx="556.2" cy="96.8" r="2.85" fill="#f67c7a" stroke="#b04848" stroke-width="0.6"/>
<circle cx="554.2" cy="131.6" r="2.85" fill="#f67c7a" stroke="#b04848" stroke-width="0.6"/>
<circle cx="556.3" cy="109.5" r="2.85" fill="#f67c7a" stroke="#b04848" stroke-width="0.6"/>
<circle cx="558.5" cy="138.4" r="2.85" fill="#f67c7a" stroke="#b04848" stroke-width="0.6"/>
<circle cx="557.1" cy="80.2" r="2.85" fill="#f67c7a" stroke="#b04848" stroke-width="0.6"/>
<circle cx="562.4" cy="116.6" r="2.85" fill="#f67c7a" stroke="#b04848" stroke-width="0.6"/>
<circle cx="555.0" cy="80.6" r="2.85" fill="#f67c7a" stroke="#b04848" stroke-width="0.6"/>
<circle cx="557.0" cy="101.6" r="2.85" fill="#f67c7a" stroke="#b04848" stroke-width="0.6"/>
<line x1="547.2" y1="111.1" x2="565.0" y2="111.1" stroke="#000" stroke-width="2.7"/>
<line x1="556.1" y1="107.2" x2="556.1" y2="115.0" stroke="#000" stroke-width="2"/>
<line x1="553.5" y1="107.2" x2="558.7" y2="107.2" stroke="#000" stroke-width="1.8"/>
<line x1="553.5" y1="115.0" x2="558.7" y2="115.0" stroke="#000" stroke-width="1.8"/>
<circle cx="591.0" cy="111.8" r="2.85" fill="#7d9ef3" stroke="#4467c0" stroke-width="0.6"/>
<circle cx="592.4" cy="69.0" r="2.85" fill="#7d9ef3" stroke="#4467c0" stroke-width="0.6"/>
<circle cx="596.9" cy="62.6" r="2.85" fill="#7d9ef3" stroke="#4467c0" stroke-width="0.6"/>
<circle cx="597.2" cy="67.4" r="2.85" fill="#7d9ef3" stroke="#4467c0" stroke-width="0.6"/>
<circle cx="591.0" cy="107.2" r="2.85" fill="#7d9ef3" stroke="#4467c0" stroke-width="0.6"/>
<circle cx="594.3" cy="85.7" r="2.85" fill="#7d9ef3" stroke="#4467c0" stroke-width="0.6"/>
<circle cx="598.0" cy="82.8" r="2.85" fill="#7d9ef3" stroke="#4467c0" stroke-width="0.6"/>
<circle cx="591.9" cy="95.0" r="2.85" fill="#7d9ef3" stroke="#4467c0" stroke-width="0.6"/>
<circle cx="596.8" cy="128.6" r="2.85" fill="#7d9ef3" stroke="#4467c0" stroke-width="0.6"/>
<circle cx="594.1" cy="115.0" r="2.85" fill="#7d9ef3" stroke="#4467c0" stroke-width="0.6"/>
<circle cx="597.8" cy="89.0" r="2.85" fill="#7d9ef3" stroke="#4467c0" stroke-width="0.6"/>
<circle cx="595.5" cy="72.7" r="2.85" fill="#7d9ef3" stroke="#4467c0" stroke-width="0.6"/>
<circle cx="597.8" cy="93.9" r="2.85" fill="#7d9ef3" stroke="#4467c0" stroke-width="0.6"/>
<circle cx="595.2" cy="109.4" r="2.85" fill="#7d9ef3" stroke="#4467c0" stroke-width="0.6"/>
<circle cx="589.5" cy="84.7" r="2.85" fill="#7d9ef3" stroke="#4467c0" stroke-width="0.6"/>
<circle cx="593.1" cy="59.5" r="2.85" fill="#7d9ef3" stroke="#4467c0" stroke-width="0.6"/>
<circle cx="590.6" cy="80.0" r="2.85" fill="#7d9ef3" stroke="#4467c0" stroke-width="0.6"/>
<circle cx="599.2" cy="127.9" r="2.85" fill="#7d9ef3" stroke="#4467c0" stroke-width="0.6"/>
<circle cx="598.2" cy="103.0" r="2.85" fill="#7d9ef3" stroke="#4467c0" stroke-width="0.6"/>
<circle cx="589.9" cy="103.0" r="2.85" fill="#7d9ef3" stroke="#4467c0" stroke-width="0.6"/>
<circle cx="602.2" cy="103.0" r="2.85" fill="#7d9ef3" stroke="#4467c0" stroke-width="0.6"/>
<circle cx="592.5" cy="129.8" r="2.85" fill="#7d9ef3" stroke="#4467c0" stroke-width="0.6"/>
<circle cx="590.2" cy="75.2" r="2.85" fill="#7d9ef3" stroke="#4467c0" stroke-width="0.6"/>
<circle cx="591.7" cy="98.9" r="2.85" fill="#7d9ef3" stroke="#4467c0" stroke-width="0.6"/>
<circle cx="590.0" cy="126.8" r="2.85" fill="#7d9ef3" stroke="#4467c0" stroke-width="0.6"/>
<circle cx="596.8" cy="136.5" r="2.85" fill="#7d9ef3" stroke="#4467c0" stroke-width="0.6"/>
<circle cx="594.2" cy="85.7" r="2.85" fill="#7d9ef3" stroke="#4467c0" stroke-width="0.6"/>
<circle cx="590.0" cy="122.0" r="2.85" fill="#7d9ef3" stroke="#4467c0" stroke-width="0.6"/>
<circle cx="592.5" cy="134.6" r="2.85" fill="#7d9ef3" stroke="#4467c0" stroke-width="0.6"/>
<circle cx="597.5" cy="103.0" r="2.85" fill="#7d9ef3" stroke="#4467c0" stroke-width="0.6"/>
<circle cx="587.9" cy="95.0" r="2.85" fill="#7d9ef3" stroke="#4467c0" stroke-width="0.6"/>
<circle cx="594.9" cy="73.9" r="2.85" fill="#7d9ef3" stroke="#4467c0" stroke-width="0.6"/>
<circle cx="593.7" cy="119.0" r="2.85" fill="#7d9ef3" stroke="#4467c0" stroke-width="0.6"/>
<circle cx="598.2" cy="113.1" r="2.85" fill="#7d9ef3" stroke="#4467c0" stroke-width="0.6"/>
<circle cx="594.2" cy="104.5" r="2.85" fill="#7d9ef3" stroke="#4467c0" stroke-width="0.6"/>
<circle cx="598.0" cy="121.2" r="2.85" fill="#7d9ef3" stroke="#4467c0" stroke-width="0.6"/>
<circle cx="601.3" cy="97.0" r="2.85" fill="#7d9ef3" stroke="#4467c0" stroke-width="0.6"/>
<circle cx="599.8" cy="76.8" r="2.85" fill="#7d9ef3" stroke="#4467c0" stroke-width="0.6"/>
<circle cx="596.8" cy="98.5" r="2.85" fill="#7d9ef3" stroke="#4467c0" stroke-width="0.6"/>
<circle cx="593.8" cy="95.0" r="2.85" fill="#7d9ef3" stroke="#4467c0" stroke-width="0.6"/>
<circle cx="587.0" cy="99.5" r="2.85" fill="#7d9ef3" stroke="#4467c0" stroke-width="0.6"/>
<circle cx="592.0" cy="64.2" r="2.85" fill="#7d9ef3" stroke="#4467c0" stroke-width="0.6"/>
<circle cx="595.3" cy="78.7" r="2.85" fill="#7d9ef3" stroke="#4467c0" stroke-width="0.6"/>
<circle cx="593.1" cy="90.3" r="2.85" fill="#7d9ef3" stroke="#4467c0" stroke-width="0.6"/>
<circle cx="594.7" cy="126.2" r="2.85" fill="#7d9ef3" stroke="#4467c0" stroke-width="0.6"/>
<line x1="585.7" y1="96.8" x2="603.5" y2="96.8" stroke="#000" stroke-width="2.7"/>
<line x1="594.6" y1="92.9" x2="594.6" y2="100.7" stroke="#000" stroke-width="2"/>
<line x1="592.0" y1="92.9" x2="597.2" y2="92.9" stroke="#000" stroke-width="1.8"/>
<line x1="592.0" y1="100.7" x2="597.2" y2="100.7" stroke="#000" stroke-width="1.8"/>
<circle cx="635.3" cy="85.0" r="2.85" fill="#a86be6" stroke="#6b3fb0" stroke-width="0.6"/>
<circle cx="636.9" cy="56.1" r="2.85" fill="#a86be6" stroke="#6b3fb0" stroke-width="0.6"/>
<circle cx="631.6" cy="71.7" r="2.85" fill="#a86be6" stroke="#6b3fb0" stroke-width="0.6"/>
<circle cx="636.9" cy="65.8" r="2.85" fill="#a86be6" stroke="#6b3fb0" stroke-width="0.6"/>
<circle cx="632.8" cy="95.8" r="2.85" fill="#a86be6" stroke="#6b3fb0" stroke-width="0.6"/>
<circle cx="636.1" cy="48.9" r="2.85" fill="#a86be6" stroke="#6b3fb0" stroke-width="0.6"/>
<circle cx="636.9" cy="60.9" r="2.85" fill="#a86be6" stroke="#6b3fb0" stroke-width="0.6"/>
<circle cx="633.8" cy="89.3" r="2.85" fill="#a86be6" stroke="#6b3fb0" stroke-width="0.6"/>
<circle cx="633.3" cy="33.0" r="2.85" fill="#a86be6" stroke="#6b3fb0" stroke-width="0.6"/>
<circle cx="629.7" cy="67.0" r="2.85" fill="#a86be6" stroke="#6b3fb0" stroke-width="0.6"/>
<circle cx="635.4" cy="102.1" r="2.85" fill="#a86be6" stroke="#6b3fb0" stroke-width="0.6"/>
<circle cx="631.1" cy="101.9" r="2.85" fill="#a86be6" stroke="#6b3fb0" stroke-width="0.6"/>
<circle cx="639.4" cy="71.5" r="2.85" fill="#a86be6" stroke="#6b3fb0" stroke-width="0.6"/>
<circle cx="635.4" cy="97.4" r="2.85" fill="#a86be6" stroke="#6b3fb0" stroke-width="0.6"/>
<circle cx="627.1" cy="70.1" r="2.85" fill="#a86be6" stroke="#6b3fb0" stroke-width="0.6"/>
<circle cx="630.1" cy="86.2" r="2.85" fill="#a86be6" stroke="#6b3fb0" stroke-width="0.6"/>
<circle cx="633.4" cy="85.0" r="2.85" fill="#a86be6" stroke="#6b3fb0" stroke-width="0.6"/>
<circle cx="631.0" cy="67.0" r="2.85" fill="#a86be6" stroke="#6b3fb0" stroke-width="0.6"/>
<circle cx="629.6" cy="55.0" r="2.85" fill="#a86be6" stroke="#6b3fb0" stroke-width="0.6"/>
<circle cx="627.1" cy="83.8" r="2.85" fill="#a86be6" stroke="#6b3fb0" stroke-width="0.6"/>
<circle cx="630.1" cy="92.1" r="2.85" fill="#a86be6" stroke="#6b3fb0" stroke-width="0.6"/>
<circle cx="633.1" cy="106.3" r="2.85" fill="#a86be6" stroke="#6b3fb0" stroke-width="0.6"/>
<circle cx="635.2" cy="79.1" r="2.85" fill="#a86be6" stroke="#6b3fb0" stroke-width="0.6"/>
<circle cx="639.4" cy="77.0" r="2.85" fill="#a86be6" stroke="#6b3fb0" stroke-width="0.6"/>
<circle cx="635.9" cy="67.8" r="2.85" fill="#a86be6" stroke="#6b3fb0" stroke-width="0.6"/>
<circle cx="631.1" cy="96.2" r="2.85" fill="#a86be6" stroke="#6b3fb0" stroke-width="0.6"/>
<circle cx="638.0" cy="83.0" r="2.85" fill="#a86be6" stroke="#6b3fb0" stroke-width="0.6"/>
<circle cx="630.4" cy="50.0" r="2.85" fill="#a86be6" stroke="#6b3fb0" stroke-width="0.6"/>
<circle cx="636.4" cy="93.0" r="2.85" fill="#a86be6" stroke="#6b3fb0" stroke-width="0.6"/>
<circle cx="629.6" cy="59.8" r="2.85" fill="#a86be6" stroke="#6b3fb0" stroke-width="0.6"/>
<circle cx="632.8" cy="63.4" r="2.85" fill="#a86be6" stroke="#6b3fb0" stroke-width="0.6"/>
<circle cx="633.3" cy="42.0" r="2.85" fill="#a86be6" stroke="#6b3fb0" stroke-width="0.6"/>
<circle cx="630.0" cy="76.2" r="2.85" fill="#a86be6" stroke="#6b3fb0" stroke-width="0.6"/>
<circle cx="635.6" cy="74.3" r="2.85" fill="#a86be6" stroke="#6b3fb0" stroke-width="0.6"/>
<circle cx="634.2" cy="53.4" r="2.85" fill="#a86be6" stroke="#6b3fb0" stroke-width="0.6"/>
<circle cx="630.8" cy="80.9" r="2.85" fill="#a86be6" stroke="#6b3fb0" stroke-width="0.6"/>
<circle cx="632.6" cy="45.4" r="2.85" fill="#a86be6" stroke="#6b3fb0" stroke-width="0.6"/>
<line x1="624.4" y1="74" x2="642.2" y2="74" stroke="#000" stroke-width="2.7"/>
<line x1="633.3" y1="70.1" x2="633.3" y2="77.9" stroke="#000" stroke-width="2"/>
<line x1="630.7" y1="70.1" x2="635.9" y2="70.1" stroke="#000" stroke-width="1.8"/>
<line x1="630.7" y1="77.9" x2="635.9" y2="77.9" stroke="#000" stroke-width="1.8"/>
<text x="11.2" y="241.9" font-size="18.6" font-family="Liberation Sans, sans-serif">D</text>
<path d="M108.0 286.0 L92.0 278.0 L77.5 271.0" fill="none" stroke="#f8c30f" stroke-width="4.5" stroke-linecap="round" stroke-linejoin="round"/>
<path d="M77.5 271.0 L66.0 265.0 L57.0 262.7 L52.2 262.5" fill="none" stroke="#f8c30f" stroke-width="3.0" stroke-linecap="round" stroke-linejoin="round"/>
<path d="M66.0 265.0 L59.5 256.7" fill="none" stroke="#f8c30f" stroke-width="2.2" stroke-linecap="round" stroke-linejoin="round"/>
<path d="M62.0 263.5 L57.0 268.0 L56.0 272.0" fill="none" stroke="#f8c30f" stroke-width="2.0" stroke-linecap="round" stroke-linejoin="round"/>
<path d="M77.5 271.0 L75.0 262.0 L73.9 253.0 L72.7 250.0" fill="none" stroke="#f8c30f" stroke-width="2.8" stroke-linecap="round" stroke-linejoin="round"/>
<path d="M75.0 262.0 L80.0 259.0 L82.0 256.0" fill="none" stroke="#f8c30f" stroke-width="2.1" stroke-linecap="round" stroke-linejoin="round"/>
<path d="M77.5 271.0 L88.0 267.0 L95.6 265.1 L98.0 270.5" fill="none" stroke="#f8c30f" stroke-width="2.8" stroke-linecap="round" stroke-linejoin="round"/>
<path d="M72.7 274.8 L66.0 282.0 L62.0 291.0" fill="none" stroke="#f8c30f" stroke-width="2.8" stroke-linecap="round" stroke-linejoin="round"/>
<path d="M67.0 281.0 L61.0 283.0" fill="none" stroke="#f8c30f" stroke-width="2.0" stroke-linecap="round" stroke-linejoin="round"/>
<path d="M119.5 278.0 L120.3 266.0 L120.5 253.5" fill="none" stroke="#f8c30f" stroke-width="4.5" stroke-linecap="round" stroke-linejoin="round"/>
<path d="M120.5 253.5 L116.5 245.0 L117.5 237.5 L119.1 231.1" fill="none" stroke="#f8c30f" stroke-width="2.9" stroke-linecap="round" stroke-linejoin="round"/>
<path d="M117.5 240.0 L113.7 237.9 L107.0 238.6" fill="none" stroke="#f8c30f" stroke-width="2.2" stroke-linecap="round" stroke-linejoin="round"/>
<path d="M118.0 236.0 L123.9 235.2" fill="none" stroke="#f8c30f" stroke-width="2.0" stroke-linecap="round" stroke-linejoin="round"/>
<path d="M119.0 257.0 L110.0 254.5 L102.2 252.8" fill="none" stroke="#f8c30f" stroke-width="2.8" stroke-linecap="round" stroke-linejoin="round"/>
<path d="M104.0 253.5 L104.5 258.0 L105.6 264.0" fill="none" stroke="#f8c30f" stroke-width="2.2" stroke-linecap="round" stroke-linejoin="round"/>
<path d="M121.5 252.5 L126.6 248.7 L134.7 250.5" fill="none" stroke="#f8c30f" stroke-width="2.8" stroke-linecap="round" stroke-linejoin="round"/>
<path d="M126.0 249.0 L127.3 240.0" fill="none" stroke="#f8c30f" stroke-width="2.2" stroke-linecap="round" stroke-linejoin="round"/>
<path d="M127.0 244.0 L133.4 241.9" fill="none" stroke="#f8c30f" stroke-width="1.9" stroke-linecap="round" stroke-linejoin="round"/>
<path d="M137.0 288.0 L146.9 279.2 L152.3 266.5" fill="none" stroke="#f8c30f" stroke-width="4.1" stroke-linecap="round" stroke-linejoin="round"/>
<path d="M146.0 281.0 L145.6 268.0 L140.1 265.7" fill="none" stroke="#f8c30f" stroke-width="2.4" stroke-linecap="round" stroke-linejoin="round"/>
<path d="M145.6 268.0 L146.5 262.0" fill="none" stroke="#f8c30f" stroke-width="2.0" stroke-linecap="round" stroke-linejoin="round"/>
<path d="M152.3 266.5 L150.5 257.0 L149.6 250.0" fill="none" stroke="#f8c30f" stroke-width="2.6" stroke-linecap="round" stroke-linejoin="round"/>
<path d="M151.0 257.0 L154.0 252.0" fill="none" stroke="#f8c30f" stroke-width="1.9" stroke-linecap="round" stroke-linejoin="round"/>
<path d="M150.5 258.0 L145.6 256.2" fill="none" stroke="#f8c30f" stroke-width="1.9" stroke-linecap="round" stroke-linejoin="round"/>
<path d="M152.3 266.5 L158.0 266.0 L163.2 272.0 L171.3 279.2" fill="none" stroke="#f8c30f" stroke-width="2.8" stroke-linecap="round" stroke-linejoin="round"/>
<path d="M163.2 271.5 L170.0 270.0 L175.4 269.7" fill="none" stroke="#f8c30f" stroke-width="2.1" stroke-linecap="round" stroke-linejoin="round"/>
<path d="M165.0 274.0 L166.0 281.0" fill="none" stroke="#f8c30f" stroke-width="1.9" stroke-linecap="round" stroke-linejoin="round"/>
<path d="M108.0 302.0 L97.0 312.0 L92.4 318.0 L91.6 324.1" fill="none" stroke="#f8c30f" stroke-width="4.7" stroke-linecap="round" stroke-linejoin="round"/>
<path d="M91.6 323.0 L80.0 322.6 L72.0 319.6 L69.8 311.3" fill="none" stroke="#f8c30f" stroke-width="2.8" stroke-linecap="round" stroke-linejoin="round"/>
<path d="M72.0 319.6 L66.0 319.0" fill="none" stroke="#f8c30f" stroke-width="2.0" stroke-linecap="round" stroke-linejoin="round"/>
<path d="M90.0 327.0 L82.6 333.1 L69.0 331.6 L63.0 333.1" fill="none" stroke="#f8c30f" stroke-width="2.8" stroke-linecap="round" stroke-linejoin="round"/>
<path d="M72.0 332.0 L68.0 338.0" fill="none" stroke="#f8c30f" stroke-width="1.9" stroke-linecap="round" stroke-linejoin="round"/>
<path d="M88.0 333.0 L88.6 339.2 L84.1 354.2 L82.6 358.7" fill="none" stroke="#f8c30f" stroke-width="2.8" stroke-linecap="round" stroke-linejoin="round"/>
<path d="M86.0 347.0 L80.0 348.0" fill="none" stroke="#f8c30f" stroke-width="1.9" stroke-linecap="round" stroke-linejoin="round"/>
<path d="M93.0 330.0 L100.0 333.0 L112.7 333.1" fill="none" stroke="#f8c30f" stroke-width="2.4" stroke-linecap="round" stroke-linejoin="round"/>
<path d="M104.0 333.0 L110.0 338.0" fill="none" stroke="#f8c30f" stroke-width="1.9" stroke-linecap="round" stroke-linejoin="round"/>
<path d="M94.0 330.0 L99.2 339.2 L109.7 351.2 L112.7 361.7 L115.7 369.3" fill="none" stroke="#f8c30f" stroke-width="2.9" stroke-linecap="round" stroke-linejoin="round"/>
<path d="M104.0 345.0 L99.2 358.7" fill="none" stroke="#f8c30f" stroke-width="2.1" stroke-linecap="round" stroke-linejoin="round"/>
<path d="M110.0 352.0 L104.0 354.0" fill="none" stroke="#f8c30f" stroke-width="1.9" stroke-linecap="round" stroke-linejoin="round"/>
<path d="M130.5 310.0 L130.8 320.0 L129.3 330.1 L127.8 339.2" fill="none" stroke="#f8c30f" stroke-width="4.5" stroke-linecap="round" stroke-linejoin="round"/>
<path d="M128.0 335.0 L120.2 336.1 L117.2 340.7" fill="none" stroke="#f8c30f" stroke-width="2.6" stroke-linecap="round" stroke-linejoin="round"/>
<path d="M120.2 336.1 L119.5 345.2" fill="none" stroke="#f8c30f" stroke-width="2.0" stroke-linecap="round" stroke-linejoin="round"/>
<path d="M129.5 333.0 L135.3 334.6 L145.8 340.7" fill="none" stroke="#f8c30f" stroke-width="2.4" stroke-linecap="round" stroke-linejoin="round"/>
<path d="M128.0 339.0 L130.8 345.2 L141.3 354.2 L144.3 360.2" fill="none" stroke="#f8c30f" stroke-width="2.8" stroke-linecap="round" stroke-linejoin="round"/>
<path d="M129.0 342.0 L126.3 351.2 L126.3 355.7" fill="none" stroke="#f8c30f" stroke-width="2.2" stroke-linecap="round" stroke-linejoin="round"/>
<path d="M138.0 350.0 L146.0 352.0" fill="none" stroke="#f8c30f" stroke-width="1.9" stroke-linecap="round" stroke-linejoin="round"/>
<path d="M100.8 297 C100.5 290 103 285 108 282 C112 279 115 277 119 276.3 C125 275.8 131 278 136 281.5 C141 285 145 290 145.2 296 C145.4 303 142 309 137 312.5 C133 315.5 127 316.8 121 316.3 C114 315.8 108 312 104.5 307.5 C102 304 101 300.5 100.8 297 Z" fill="#f8c30f"/>
<path d="M101 285 L86 276 L84 281 L103 293 Z" fill="#f8c30f"/>
<path d="M116.5 278 L118.6 264 L122.4 264 L124.5 278 Z" fill="#f8c30f"/>
<path d="M134 281 L146 274 L150 280 L141 290 Z" fill="#f8c30f"/>
<path d="M103 303 L93 315 L98 318 L110 309 Z" fill="#f8c30f"/>
<path d="M125 314 L127 326 L133 326 L135 313 Z" fill="#f8c30f"/>
<ellipse cx="121.3" cy="295.2" rx="7.4" ry="5.6" fill="#ee5a26" transform="rotate(14 121.3 295.2)"/>
<path d="M141 300 C150 298 152 287 162 286.3 L266 286.3 C278 286.3 284 293 284.3 304 C284.5 322 272 345 240 368 C222 380 200 392 178 398.5 L158.5 405.2" fill="none" stroke="#f8c30f" stroke-width="3.2" stroke-linecap="round" stroke-linejoin="round" />
<path d="M158.5 405.2 L146.0 392.0 L132.0 378.0 L128.7 374.4" fill="none" stroke="#f8c30f" stroke-width="2.2" stroke-linecap="round" stroke-linejoin="round"/>
<path d="M124.5 376.5 C126 371 129 371 133.5 372.5 L130 376 Z" fill="#f8c30f"/>
<path d="M158.5 405.2 L145.0 411.0 L134.1 416.9 L120.0 415.5 L108.8 416.0" fill="none" stroke="#f8c30f" stroke-width="2.0" stroke-linecap="round" stroke-linejoin="round"/>
<path d="M108.5 411.5 L108.5 420 L113 416.5 Z" fill="#f8c30f"/>
<path d="M134.1 416.9 L120.0 422.0 L105.0 428.0 L94.3 435.0" fill="none" stroke="#f8c30f" stroke-width="1.8" stroke-linecap="round" stroke-linejoin="round"/>
<path d="M92 431 L94 438.5 L98 433 Z" fill="#f8c30f"/>
<path d="M134.1 416.9 L125.0 428.0 L118.0 440.0 L114.2 454.8" fill="none" stroke="#f8c30f" stroke-width="1.8" stroke-linecap="round" stroke-linejoin="round"/>
<path d="M111.5 454.5 L116.5 456 L114 450 Z" fill="#f8c30f"/>
<path d="M136.0 419.0 L133.0 432.0 L129.0 445.0 L126.9 458.4" fill="none" stroke="#f8c30f" stroke-width="1.8" stroke-linecap="round" stroke-linejoin="round"/>
<path d="M158.5 405.2 L152.0 415.0 L148.5 428.0 L148.6 440.4" fill="none" stroke="#f8c30f" stroke-width="1.8" stroke-linecap="round" stroke-linejoin="round"/>
<path d="M146 440 L151.5 441.5 L148.5 436 Z" fill="#f8c30f"/>
<path d="M144 309.5 C152 309 156 304 160 298 C164 293 170 293 176 294.5" fill="none" stroke="#6a2fa0" stroke-width="2.1" stroke-linecap="round" stroke-linejoin="round" />
<path d="M183.5 294.5 L173.5 299.3 L176.5 294.5 L173.5 289.7 Z" fill="#6a2fa0"/>
<path d="M259.3 292 C270 294 277 300 277 312 C277 330 266 345 245 360 C225 374 200 385 172 392.5" fill="none" stroke="#6a2fa0" stroke-width="2.0" stroke-linecap="round" stroke-linejoin="round" />
<path d="M163.5 395.0 L171.8 387.6 L170.2 393.1 L174.4 396.9 Z" fill="#6a2fa0"/>
<path d="M151.3 404.2 L136.3 384.7" fill="none" stroke="#6a2fa0" stroke-width="2.0" stroke-linecap="round" stroke-linejoin="round"/>
<path d="M133.2 380.7 L142.6 385.4 L137.3 386.0 L135.4 391.0 Z" fill="#6a2fa0"/>
<path d="M148.6 407.5 L118.3 409.3" fill="none" stroke="#6a2fa0" stroke-width="2.0" stroke-linecap="round" stroke-linejoin="round"/>
<path d="M113.3 409.6 L122.5 404.4 L119.9 409.2 L123.1 413.6 Z" fill="#6a2fa0"/>
<path d="M128.7 419.6 L101.9 424.2" fill="none" stroke="#6a2fa0" stroke-width="2.0" stroke-linecap="round" stroke-linejoin="round"/>
<path d="M97.0 425.0 L105.6 418.9 L103.6 423.9 L107.1 427.9 Z" fill="#6a2fa0"/>
<path d="M124.2 428.6 L111.3 451.4" fill="none" stroke="#6a2fa0" stroke-width="2.0" stroke-linecap="round" stroke-linejoin="round"/>
<path d="M108.8 455.7 L109.5 445.2 L112.1 449.9 L117.5 449.7 Z" fill="#6a2fa0"/>
<path d="M134.1 427.7 L124.3 451.1" fill="none" stroke="#6a2fa0" stroke-width="2.0" stroke-linecap="round" stroke-linejoin="round"/>
<path d="M122.4 455.7 L121.8 445.2 L125.0 449.6 L130.3 448.7 Z" fill="#6a2fa0"/>
<path d="M151.3 413.3 L145.2 437.4" fill="none" stroke="#6a2fa0" stroke-width="2.0" stroke-linecap="round" stroke-linejoin="round"/>
<path d="M144.0 442.2 L141.9 431.9 L145.6 435.8 L150.8 434.1 Z" fill="#6a2fa0"/>
<path d="M182 284 L190 284 C192 284 192.5 256 194.5 255.5 C196.5 255.5 197 280 199.5 290 C201 294.5 204 294 207 290 C210 286 213 284.5 217 284" fill="none" stroke="#3dbb82" stroke-width="1.7" stroke-linecap="round" stroke-linejoin="round" />
<path d="M226.8 284 L235 284 C237 284 237.5 256 239.5 255.5 C241.5 255.5 242 280 244.5 290 C246 294.5 249 294 252 290 C255 286 258 284.5 262 284" fill="none" stroke="#1d8c49" stroke-width="1.7" stroke-linecap="round" stroke-linejoin="round" />
<text x="197.3" y="262.8" font-size="14" fill="#3dbb82" stroke="#3dbb82" stroke-width="0.35" font-family="Liberation Sans, sans-serif">t</text>
<text x="202.4" y="268" font-size="8.8" fill="#3dbb82" font-family="Liberation Sans, sans-serif">1</text>
<text x="242.1" y="262.8" font-size="14" fill="#1d8c49" stroke="#1d8c49" stroke-width="0.35" font-family="Liberation Sans, sans-serif">t</text>
<text x="246.9" y="268" font-size="8.8" fill="#1d8c49" font-family="Liberation Sans, sans-serif">2</text>
<text x="189.8" y="249.6" font-size="11.05" fill="#222" font-family="Liberation Sans, sans-serif">action potential</text>
<path d="M269.8 267.2 L269.8 255" fill="none" stroke="#222" stroke-width="1.3" stroke-linecap="round" stroke-linejoin="round" />
<path d="M266.8 257.5 L269.8 252 L272.8 257.5 Z" fill="#222"/>
<path d="M269.8 267.2 L281.5 267.2" fill="none" stroke="#222" stroke-width="1.3" stroke-linecap="round" stroke-linejoin="round" />
<path d="M280 264.2 L285.5 267.2 L280 270.2 Z" fill="#222"/>
<text x="262" y="264" font-size="8.5" fill="#222" font-family="Liberation Sans, sans-serif">v</text>
<text x="272.8" y="276" font-size="8" fill="#222" font-family="Liberation Sans, sans-serif">x</text>
<path d="M186.4 291.4 L188.6 287.8 L190.8 291.4 Z" fill="#111"/>
<text x="185.6" y="302.5" font-size="12.5" fill="#111" font-family="Liberation Sans, sans-serif">x</text>
<text x="192.2" y="307.5" font-size="7.5" fill="#111" font-family="Liberation Sans, sans-serif">1</text>
<path d="M231.4 291.4 L233.6 287.8 L235.8 291.4 Z" fill="#111"/>
<text x="230.6" y="302.5" font-size="12.5" fill="#111" font-family="Liberation Sans, sans-serif">x</text>
<text x="237.2" y="307.5" font-size="7.5" fill="#111" font-family="Liberation Sans, sans-serif">2</text>
<path d="M192 315 L229.5 315" fill="none" stroke="#222" stroke-width="1.3" stroke-linecap="round" stroke-linejoin="round" />
<path d="M189.4 315 L194.8 312 L194.8 318 Z" fill="#222"/>
<path d="M232.2 315 L226.8 312 L226.8 318 Z" fill="#222"/>
<text x="212.8" y="331.8" font-size="13.5" text-anchor="middle" fill="#111" font-family="Liberation Sans, sans-serif">Δx</text>
<text x="55" y="305.7" font-size="12.2" fill="#111" font-family="Liberation Sans, sans-serif">neuron</text>
<text x="181.8" y="359.5" font-size="11.3" text-anchor="middle" fill="#111" font-family="Liberation Sans, sans-serif">signal</text>
<text x="182.2" y="372.8" font-size="11" text-anchor="middle" fill="#111" font-family="Liberation Sans, sans-serif">propagation</text>
<text x="237.6" y="386" font-size="11" fill="#111" font-family="Liberation Sans, sans-serif">axon</text>
<text x="211.1" y="421.7" font-size="11.6" text-anchor="middle" fill="#111" font-family="Liberation Sans, sans-serif">conduction</text>
<text x="211" y="436.9" font-size="12" text-anchor="middle" fill="#111" font-family="Liberation Sans, sans-serif">velocity</text>
<text x="246.9" y="430.3" font-size="14" text-anchor="middle" fill="#111" font-family="Liberation Sans, sans-serif">=</text>
<text x="275.5" y="422.3" font-size="14.6" text-anchor="middle" fill="#111" font-family="Liberation Sans, sans-serif">Δx</text>
<line x1="259.3" y1="427" x2="294" y2="427" stroke="#111" stroke-width="1.5"/>
<text x="262.6" y="439.4" font-size="13.5" fill="#111" font-family="Liberation Sans, sans-serif">t</text>
<text x="267.6" y="446.3" font-size="8.5" fill="#111" font-family="Liberation Sans, sans-serif">2</text>
<text x="275.4" y="440.1" font-size="13.5" fill="#111" font-family="Liberation Sans, sans-serif">-</text>
<text x="283.6" y="439.4" font-size="13.5" fill="#111" font-family="Liberation Sans, sans-serif">t</text>
<text x="288.5" y="446.3" font-size="8.5" fill="#111" font-family="Liberation Sans, sans-serif">1</text>
<text x="333" y="241.7" font-size="18.6" font-family="Liberation Sans, sans-serif">E</text>
<line x1="381" y1="295.4" x2="597.5" y2="295.4" stroke="#555" stroke-width="1.5" stroke-dasharray="10.5 9.2" stroke-dashoffset="6"/>
<line x1="381" y1="371.7" x2="597.5" y2="371.7" stroke="#555" stroke-width="1.5" stroke-dasharray="10.5 9.2" stroke-dashoffset="6"/>
<line x1="381" y1="399.2" x2="597.5" y2="399.2" stroke="#555" stroke-width="1.5" stroke-dasharray="10.5 9.2" stroke-dashoffset="6"/>
<line x1="470.8" y1="280.5" x2="470.8" y2="433" stroke="#555" stroke-width="1.5" stroke-dasharray="4.5 10.2"/>
<line x1="517.8" y1="280.5" x2="517.8" y2="433" stroke="#555" stroke-width="1.5" stroke-dasharray="4.5 10.2"/>
<line x1="563.8" y1="280.5" x2="563.8" y2="433" stroke="#555" stroke-width="1.5" stroke-dasharray="4.5 10.2"/>
<line x1="381" y1="270" x2="381" y2="442" stroke="#222" stroke-width="2"/>
<path d="M374.3 273.3 L381 257.6 L387.6 273.3 L381 270.5 Z" fill="#222"/>
<line x1="367" y1="428.4" x2="603" y2="428.4" stroke="#222" stroke-width="2"/>
<path d="M600.5 421.6 L616 428.4 L600.5 435.2 L603.3 428.4 Z" fill="#222"/>
<text x="380.5" y="249.3" font-size="12.5" text-anchor="middle" fill="#222" font-family="Liberation Sans, sans-serif">V</text>
<text x="621.6" y="433.3" font-size="14" fill="#222" font-family="Liberation Sans, sans-serif">t</text>
<text x="360" y="299.5" font-size="15" fill="#222" font-family="Liberation Sans, sans-serif">V</text>
<text x="368.8" y="304.5" font-size="8.8" fill="#222" font-family="Liberation Sans, sans-serif">A</text>
<text x="360" y="375.8" font-size="15" fill="#222" font-family="Liberation Sans, sans-serif">V</text>
<text x="368.8" y="380.8" font-size="8.8" fill="#222" font-family="Liberation Sans, sans-serif">T</text>
<text x="360" y="403.3" font-size="15" fill="#222" font-family="Liberation Sans, sans-serif">V</text>
<text x="368.8" y="408.3" font-size="8.8" fill="#222" font-family="Liberation Sans, sans-serif">R</text>
<text x="469.5" y="449" font-size="14.5" fill="#222" font-family="Liberation Sans, sans-serif">t</text>
<text x="474.9" y="453.3" font-size="8.5" fill="#222" font-family="Liberation Sans, sans-serif">1</text>
<text x="516.5" y="449" font-size="14.5" fill="#222" font-family="Liberation Sans, sans-serif">t</text>
<text x="521.9" y="453.3" font-size="8.5" fill="#222" font-family="Liberation Sans, sans-serif">2</text>
<text x="562.5" y="449" font-size="14.5" fill="#222" font-family="Liberation Sans, sans-serif">t</text>
<text x="567.9" y="453.3" font-size="8.5" fill="#222" font-family="Liberation Sans, sans-serif">3</text>
<path d="M476 399.2 L522 399.2 C540 399.2 552 393 558.5 383 C561.5 378 563.8 374.5 563.8 371.7 L563.8 295.4" fill="none" stroke="#8cbf3a" stroke-width="3"/>
<path d="M428 399.2 L476 399.2 C494 399.2 506 393 512.5 383 C515.5 378 517.8 374.5 517.8 371.7 L517.8 295.4" fill="none" stroke="#ec1c2a" stroke-width="3"/>
<path d="M407.5 399.2 L430 399.2 C447 399.2 459 393 465.5 383 C468.5 378 470.8 374.5 470.8 371.7 L470.8 295.4" fill="none" stroke="#16b1e6" stroke-width="3"/>
<line x1="476.9" y1="399.2" x2="476.9" y2="299.4" stroke="#16b1e6" stroke-width="1.2"/>
<path d="M474.7 301.4 L476.9 295.9 L479.1 301.4 Z" fill="#16b1e6"/>
<line x1="486.3" y1="399.2" x2="486.3" y2="299.4" stroke="#16b1e6" stroke-width="1.2"/>
<path d="M484.1 301.4 L486.3 295.9 L488.5 301.4 Z" fill="#16b1e6"/>
<line x1="495.9" y1="399.2" x2="495.9" y2="299.4" stroke="#16b1e6" stroke-width="1.2"/>
<path d="M493.7 301.4 L495.9 295.9 L498.1 301.4 Z" fill="#16b1e6"/>
<line x1="504.6" y1="399.2" x2="504.6" y2="299.4" stroke="#16b1e6" stroke-width="1.2"/>
<path d="M502.4 301.4 L504.6 295.9 L506.8 301.4 Z" fill="#16b1e6"/>
<line x1="513.5" y1="399.2" x2="513.5" y2="299.4" stroke="#16b1e6" stroke-width="1.2"/>
<path d="M511.3 301.4 L513.5 295.9 L515.7 301.4 Z" fill="#16b1e6"/>
<line x1="458" y1="399.2" x2="458" y2="392.5" stroke="#16b1e6" stroke-width="1.2"/>
<path d="M455.8 394.5 L458 389.5 L460.2 394.5 Z" fill="#16b1e6"/>
<line x1="466.5" y1="399.2" x2="466.5" y2="383" stroke="#16b1e6" stroke-width="1.2"/>
<path d="M464.3 385.0 L466.5 380.0 L468.7 385.0 Z" fill="#16b1e6"/>
<line x1="504.7" y1="388" x2="504.7" y2="396.2" stroke="#8cbf3a" stroke-width="1.2"/>
<path d="M502.5 394.2 L504.7 399.2 L506.9 394.2 Z" fill="#8cbf3a"/>
<line x1="514.2" y1="380" x2="514.2" y2="396.2" stroke="#8cbf3a" stroke-width="1.2"/>
<path d="M512.0 394.2 L514.2 399.2 L516.4 394.2 Z" fill="#8cbf3a"/>
<text x="421.8" y="412.5" font-size="13" fill="#16b1e6" font-family="Liberation Sans, sans-serif">x</text>
<text x="429.3" y="416" font-size="7.5" fill="#16b1e6" font-family="Liberation Sans, sans-serif">1</text>
<text x="475.2" y="412.5" font-size="13" fill="#ec1c2a" font-family="Liberation Sans, sans-serif">x</text>
<text x="482.7" y="416" font-size="7.5" fill="#ec1c2a" font-family="Liberation Sans, sans-serif">2</text>
<text x="519.5" y="412.5" font-size="13" fill="#8cbf3a" font-family="Liberation Sans, sans-serif">x</text>
<text x="527.0" y="416" font-size="7.5" fill="#8cbf3a" font-family="Liberation Sans, sans-serif">3</text>
<text x="427.6" y="257.4" font-size="15" fill="#222" font-family="Liberation Sans, sans-serif">d<tspan fill="#ec1c2a">V</tspan></text>
<line x1="428" y1="264.2" x2="449.5" y2="264.2" stroke="#222" stroke-width="1.3"/>
<text x="430.8" y="278.1" font-size="15" fill="#222" font-family="Liberation Sans, sans-serif">dt</text>
<path d="M465 260.4 C460.5 260.2 459 268.6 455.9 268.6 C454 268.6 453.3 266.6 453.3 264.2 C453.3 261.8 454.2 259.8 456 259.8 C458.8 259.8 460.5 267.8 465 268.2" fill="none" stroke="#111" stroke-width="1.7"/>
<text x="469.5" y="268.4" font-size="13" fill="#333" font-family="Liberation Sans, sans-serif" xml:space="preserve">(<tspan fill="#16b1e6">V</tspan> - <tspan fill="#ec1c2a">V</tspan>) + (<tspan fill="#8cbf3a">V</tspan> - <tspan fill="#ec1c2a">V</tspan>)</text>
<text x="13.4" y="481.9" font-size="18.6" font-family="Liberation Sans, sans-serif">F</text>
<line x1="77.0" y1="489.3" x2="77.0" y2="675.3" stroke="#cfcfcf" stroke-width="1"/>
<line x1="122.35" y1="489.3" x2="122.35" y2="675.3" stroke="#cfcfcf" stroke-width="1"/>
<line x1="167.7" y1="489.3" x2="167.7" y2="675.3" stroke="#cfcfcf" stroke-width="1"/>
<line x1="213.05" y1="489.3" x2="213.05" y2="675.3" stroke="#cfcfcf" stroke-width="1"/>
<line x1="258.4" y1="489.3" x2="258.4" y2="675.3" stroke="#cfcfcf" stroke-width="1"/>
<line x1="303.75" y1="489.3" x2="303.75" y2="675.3" stroke="#cfcfcf" stroke-width="1"/>
<line x1="65.6" y1="516.92" x2="314.6" y2="516.92" stroke="#cfcfcf" stroke-width="1"/>
<line x1="65.6" y1="544.46" x2="314.6" y2="544.46" stroke="#cfcfcf" stroke-width="1"/>
<line x1="65.6" y1="572.0" x2="314.6" y2="572.0" stroke="#cfcfcf" stroke-width="1"/>
<line x1="65.6" y1="599.54" x2="314.6" y2="599.54" stroke="#cfcfcf" stroke-width="1"/>
<line x1="65.6" y1="627.08" x2="314.6" y2="627.08" stroke="#cfcfcf" stroke-width="1"/>
<line x1="65.6" y1="654.62" x2="314.6" y2="654.62" stroke="#cfcfcf" stroke-width="1"/>
<rect x="65.6" y="489.3" width="249.00000000000003" height="185.99999999999994" fill="none" stroke="#1a1a1a" stroke-width="1.4"/>
<line x1="77.0" y1="675.3" x2="77.0" y2="678.6999999999999" stroke="#1a1a1a" stroke-width="1"/>
<text x="77.0" y="690.6" font-size="12" text-anchor="middle" fill="#1a1a1a" font-family="Liberation Sans, sans-serif">0</text>
<line x1="122.35" y1="675.3" x2="122.35" y2="678.6999999999999" stroke="#1a1a1a" stroke-width="1"/>
<text x="122.35" y="690.6" font-size="12" text-anchor="middle" fill="#1a1a1a" font-family="Liberation Sans, sans-serif">10</text>
<line x1="167.7" y1="675.3" x2="167.7" y2="678.6999999999999" stroke="#1a1a1a" stroke-width="1"/>
<text x="167.7" y="690.6" font-size="12" text-anchor="middle" fill="#1a1a1a" font-family="Liberation Sans, sans-serif">20</text>
<line x1="213.05" y1="675.3" x2="213.05" y2="678.6999999999999" stroke="#1a1a1a" stroke-width="1"/>
<text x="213.05" y="690.6" font-size="12" text-anchor="middle" fill="#1a1a1a" font-family="Liberation Sans, sans-serif">30</text>
<line x1="258.4" y1="675.3" x2="258.4" y2="678.6999999999999" stroke="#1a1a1a" stroke-width="1"/>
<text x="258.4" y="690.6" font-size="12" text-anchor="middle" fill="#1a1a1a" font-family="Liberation Sans, sans-serif">40</text>
<line x1="303.75" y1="675.3" x2="303.75" y2="678.6999999999999" stroke="#1a1a1a" stroke-width="1"/>
<text x="303.75" y="690.6" font-size="12" text-anchor="middle" fill="#1a1a1a" font-family="Liberation Sans, sans-serif">50</text>
<line x1="62.199999999999996" y1="489.38" x2="65.6" y2="489.38" stroke="#1a1a1a" stroke-width="1"/>
<text x="59.6" y="493.9" font-size="12" text-anchor="end" fill="#1a1a1a" font-family="Liberation Sans, sans-serif">60</text>
<line x1="62.199999999999996" y1="516.92" x2="65.6" y2="516.92" stroke="#1a1a1a" stroke-width="1"/>
<text x="59.6" y="521.4" font-size="12" text-anchor="end" fill="#1a1a1a" font-family="Liberation Sans, sans-serif">40</text>
<line x1="62.199999999999996" y1="544.46" x2="65.6" y2="544.46" stroke="#1a1a1a" stroke-width="1"/>
<text x="59.6" y="549.0" font-size="12" text-anchor="end" fill="#1a1a1a" font-family="Liberation Sans, sans-serif">20</text>
<line x1="62.199999999999996" y1="572.0" x2="65.6" y2="572.0" stroke="#1a1a1a" stroke-width="1"/>
<text x="59.6" y="576.5" font-size="12" text-anchor="end" fill="#1a1a1a" font-family="Liberation Sans, sans-serif">0</text>
<line x1="62.199999999999996" y1="599.54" x2="65.6" y2="599.54" stroke="#1a1a1a" stroke-width="1"/>
<text x="59.6" y="604.0" font-size="12" text-anchor="end" fill="#1a1a1a" font-family="Liberation Sans, sans-serif">−20</text>
<line x1="62.199999999999996" y1="627.08" x2="65.6" y2="627.08" stroke="#1a1a1a" stroke-width="1"/>
<text x="59.6" y="631.6" font-size="12" text-anchor="end" fill="#1a1a1a" font-family="Liberation Sans, sans-serif">−40</text>
<line x1="62.199999999999996" y1="654.62" x2="65.6" y2="654.62" stroke="#1a1a1a" stroke-width="1"/>
<text x="59.6" y="659.1" font-size="12" text-anchor="end" fill="#1a1a1a" font-family="Liberation Sans, sans-serif">−60</text>
<path d="M77.0 625.7 L99.7 616.8 L122.3 607.8 L145.0 598.9 L167.7 589.9 L190.4 581.0 L213.1 572.0 L235.7 563.0 L258.4 554.1 L281.1 545.1 L303.8 536.2" fill="none" stroke="#d5183f" stroke-width="3" stroke-linejoin="round"/>
<circle cx="77.0" cy="625.7" r="5.35" fill="#d5183f" stroke="#111" stroke-width="1.1"/>
<circle cx="99.7" cy="616.8" r="5.35" fill="#d5183f" stroke="#111" stroke-width="1.1"/>
<circle cx="122.3" cy="607.8" r="5.35" fill="#d5183f" stroke="#111" stroke-width="1.1"/>
<circle cx="145.0" cy="598.9" r="5.35" fill="#d5183f" stroke="#111" stroke-width="1.1"/>
<circle cx="167.7" cy="589.9" r="5.35" fill="#d5183f" stroke="#111" stroke-width="1.1"/>
<circle cx="190.4" cy="581.0" r="5.35" fill="#d5183f" stroke="#111" stroke-width="1.1"/>
<circle cx="213.1" cy="572.0" r="5.35" fill="#d5183f" stroke="#111" stroke-width="1.1"/>
<circle cx="235.7" cy="563.0" r="5.35" fill="#d5183f" stroke="#111" stroke-width="1.1"/>
<circle cx="258.4" cy="554.1" r="5.35" fill="#d5183f" stroke="#111" stroke-width="1.1"/>
<circle cx="281.1" cy="545.1" r="5.35" fill="#d5183f" stroke="#111" stroke-width="1.1"/>
<circle cx="303.8" cy="536.2" r="5.35" fill="#d5183f" stroke="#111" stroke-width="1.1"/>
<text x="190" y="704.6" font-size="12.05" text-anchor="middle" fill="#1a1a1a" font-family="Liberation Sans, sans-serif">Peak membrane</text>
<text x="190" y="716.8" font-size="12.05" text-anchor="middle" fill="#1a1a1a" font-family="Liberation Sans, sans-serif">potential [mV]</text>
<text transform="translate(20.3 582) rotate(-90)" font-size="12.15" text-anchor="middle" fill="#1a1a1a" font-family="Liberation Sans, sans-serif">Relative change</text>
<text transform="translate(32.3 582) rotate(-90)" font-size="12.15" text-anchor="middle" fill="#1a1a1a" font-family="Liberation Sans, sans-serif">in conduction velocity (%)</text>
<text x="332.5" y="481.9" font-size="18.6" font-family="Liberation Sans, sans-serif">G</text>
<line x1="412.7" y1="488.6" x2="412.7" y2="674.2" stroke="#cfcfcf" stroke-width="1"/>
<line x1="478.2" y1="488.6" x2="478.2" y2="674.2" stroke="#cfcfcf" stroke-width="1"/>
<line x1="543.4" y1="488.6" x2="543.4" y2="674.2" stroke="#cfcfcf" stroke-width="1"/>
<line x1="608.7" y1="488.6" x2="608.7" y2="674.2" stroke="#cfcfcf" stroke-width="1"/>
<line x1="386.6" y1="516.232" x2="635.6" y2="516.232" stroke="#cfcfcf" stroke-width="1"/>
<line x1="386.6" y1="543.866" x2="635.6" y2="543.866" stroke="#cfcfcf" stroke-width="1"/>
<line x1="386.6" y1="571.5" x2="635.6" y2="571.5" stroke="#cfcfcf" stroke-width="1"/>
<line x1="386.6" y1="599.134" x2="635.6" y2="599.134" stroke="#cfcfcf" stroke-width="1"/>
<line x1="386.6" y1="626.768" x2="635.6" y2="626.768" stroke="#cfcfcf" stroke-width="1"/>
<line x1="386.6" y1="654.402" x2="635.6" y2="654.402" stroke="#cfcfcf" stroke-width="1"/>
<rect x="386.6" y="488.6" width="249.0" height="185.60000000000002" fill="none" stroke="#1a1a1a" stroke-width="1.4"/>
<line x1="412.7" y1="674.2" x2="412.7" y2="677.6" stroke="#1a1a1a" stroke-width="1"/>
<text x="412.7" y="689.5" font-size="12" text-anchor="middle" fill="#1a1a1a" font-family="Liberation Sans, sans-serif">−90</text>
<line x1="478.2" y1="674.2" x2="478.2" y2="677.6" stroke="#1a1a1a" stroke-width="1"/>
<text x="478.2" y="689.5" font-size="12" text-anchor="middle" fill="#1a1a1a" font-family="Liberation Sans, sans-serif">−80</text>
<line x1="543.4" y1="674.2" x2="543.4" y2="677.6" stroke="#1a1a1a" stroke-width="1"/>
<text x="543.4" y="689.5" font-size="12" text-anchor="middle" fill="#1a1a1a" font-family="Liberation Sans, sans-serif">−70</text>
<line x1="608.7" y1="674.2" x2="608.7" y2="677.6" stroke="#1a1a1a" stroke-width="1"/>
<text x="608.7" y="689.5" font-size="12" text-anchor="middle" fill="#1a1a1a" font-family="Liberation Sans, sans-serif">−60</text>
<line x1="383.20000000000005" y1="488.598" x2="386.6" y2="488.598" stroke="#1a1a1a" stroke-width="1"/>
<text x="380.6" y="493.1" font-size="12" text-anchor="end" fill="#1a1a1a" font-family="Liberation Sans, sans-serif">60</text>
<line x1="383.20000000000005" y1="516.232" x2="386.6" y2="516.232" stroke="#1a1a1a" stroke-width="1"/>
<text x="380.6" y="520.7" font-size="12" text-anchor="end" fill="#1a1a1a" font-family="Liberation Sans, sans-serif">40</text>
<line x1="383.20000000000005" y1="543.866" x2="386.6" y2="543.866" stroke="#1a1a1a" stroke-width="1"/>
<text x="380.6" y="548.4" font-size="12" text-anchor="end" fill="#1a1a1a" font-family="Liberation Sans, sans-serif">20</text>
<line x1="383.20000000000005" y1="571.5" x2="386.6" y2="571.5" stroke="#1a1a1a" stroke-width="1"/>
<text x="380.6" y="576.0" font-size="12" text-anchor="end" fill="#1a1a1a" font-family="Liberation Sans, sans-serif">0</text>
<line x1="383.20000000000005" y1="599.134" x2="386.6" y2="599.134" stroke="#1a1a1a" stroke-width="1"/>
<text x="380.6" y="603.6" font-size="12" text-anchor="end" fill="#1a1a1a" font-family="Liberation Sans, sans-serif">−20</text>
<line x1="383.20000000000005" y1="626.768" x2="386.6" y2="626.768" stroke="#1a1a1a" stroke-width="1"/>
<text x="380.6" y="631.3" font-size="12" text-anchor="end" fill="#1a1a1a" font-family="Liberation Sans, sans-serif">−40</text>
<line x1="383.20000000000005" y1="654.402" x2="386.6" y2="654.402" stroke="#1a1a1a" stroke-width="1"/>
<text x="380.6" y="658.9" font-size="12" text-anchor="end" fill="#1a1a1a" font-family="Liberation Sans, sans-serif">−60</text>
<path d="M412.8 662.0 C421.1 659.7 448.1 653.2 462.9 648.4 C477.7 643.6 490.3 638.5 501.7 633.1 C513.1 627.7 522.4 622.0 531.2 615.9 C540.0 609.8 547.6 603.1 554.3 596.8 C561.0 590.5 566.3 584.8 571.4 578.2 C576.5 571.6 580.8 564.0 584.8 557.3 C588.8 550.5 592.2 544.1 595.1 537.7 C598.0 531.3 600.1 525.1 602.4 519.0 C604.7 512.9 607.7 504.1 608.7 501.1" fill="none" stroke="#14b4ee" stroke-width="3" stroke-linejoin="round"/>
<circle cx="412.8" cy="662.0" r="5.35" fill="#14b4ee" stroke="#111" stroke-width="1.1"/>
<circle cx="462.9" cy="648.4" r="5.35" fill="#14b4ee" stroke="#111" stroke-width="1.1"/>
<circle cx="501.7" cy="633.1" r="5.35" fill="#14b4ee" stroke="#111" stroke-width="1.1"/>
<circle cx="531.2" cy="615.9" r="5.35" fill="#14b4ee" stroke="#111" stroke-width="1.1"/>
<circle cx="554.3" cy="596.8" r="5.35" fill="#14b4ee" stroke="#111" stroke-width="1.1"/>
<circle cx="571.4" cy="578.2" r="5.35" fill="#14b4ee" stroke="#111" stroke-width="1.1"/>
<circle cx="584.8" cy="557.3" r="5.35" fill="#14b4ee" stroke="#111" stroke-width="1.1"/>
<circle cx="595.1" cy="537.7" r="5.35" fill="#14b4ee" stroke="#111" stroke-width="1.1"/>
<circle cx="602.4" cy="519.0" r="5.35" fill="#14b4ee" stroke="#111" stroke-width="1.1"/>
<circle cx="608.7" cy="501.1" r="5.35" fill="#14b4ee" stroke="#111" stroke-width="1.1"/>
<text x="510.5" y="704.6" font-size="12.05" text-anchor="middle" fill="#1a1a1a" font-family="Liberation Sans, sans-serif">Resting membrane</text>
<text x="510.5" y="716.8" font-size="12.05" text-anchor="middle" fill="#1a1a1a" font-family="Liberation Sans, sans-serif">potential [mV]</text>
<text transform="translate(340.8 581.5) rotate(-90)" font-size="12.15" text-anchor="middle" fill="#1a1a1a" font-family="Liberation Sans, sans-serif">Relative change</text>
<text transform="translate(352.6 581.5) rotate(-90)" font-size="12.15" text-anchor="middle" fill="#1a1a1a" font-family="Liberation Sans, sans-serif">in conduction velocity (%)</text>
</svg>
</body></html>
